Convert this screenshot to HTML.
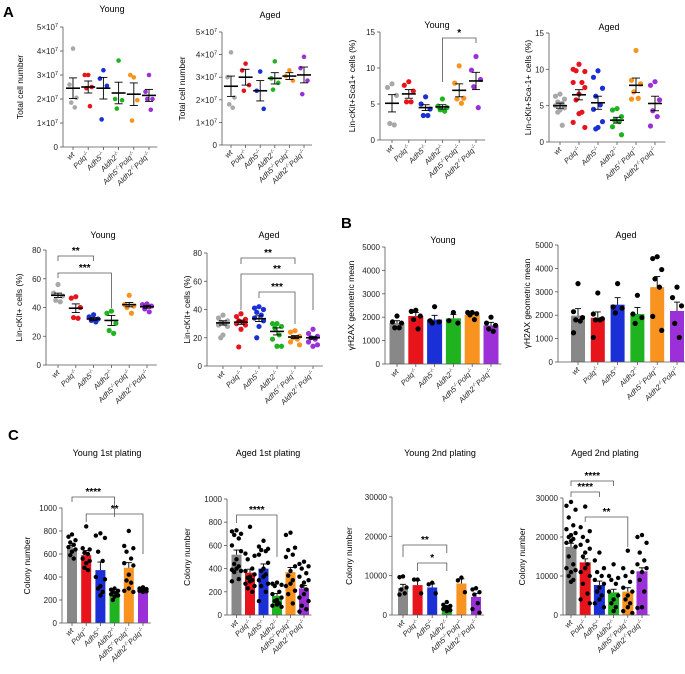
<!DOCTYPE html>
<html><head><meta charset="utf-8">
<style>
html,body{margin:0;padding:0;background:#fff;}
svg{display:block;font-family:"Liberation Sans",Arial,sans-serif;}
</style></head>
<body>
<svg id="fig" width="685" height="674" viewBox="0 0 685 674" xmlns="http://www.w3.org/2000/svg">
<text x="3" y="17" font-size="15" font-weight="bold">A</text>
<text x="341" y="228" font-size="15" font-weight="bold">B</text>
<text x="8" y="440" font-size="15" font-weight="bold">C</text>
</svg>
<script>
// ---- data ----
const categories = ["wt","Polq","Adh5","Aldh2","Adh5 Polq","Aldh2 Polq"];
const totalYoungMeans = [2.45,2.5,2.45,2.25,2.2,2.15];
const totalYoungSem = [0.43,0.25,0.45,0.45,0.47,0.25];
const totalYoungDots = [[4.1,2.6,2.05,1.85,1.65],[3.0,3.0,2.5,2.45,1.7],[3.2,2.85,2.55,1.15],[3.6,2.0,1.95,1.6],[2.9,3.0,1.95,1.1],[3.0,2.3,2.0,2.0,1.55]];
const totalAgedMeans = [2.6,3.0,2.4,2.95,3.05,3.1];
const totalAgedSem = [0.45,0.35,0.45,0.25,0.15,0.35];
const totalAgedDots = [[4.1,3.0,2.1,1.8,1.65],[3.6,3.3,2.65,2.4],[3.25,2.4,1.6],[3.7,2.95,2.75,2.45],[3.3,3.05,2.85],[3.9,3.4,2.85,2.25]];
const lskYoungMeans = [5.1,6.4,4.5,4.6,6.9,8.2];
const lskYoungSem = [1.2,0.6,0.4,0.3,0.9,1.2];
const lskYoungDots = [[7.8,7.3,6.2,2.3,2.1],[8.1,7.6,6.8,5.3,5.3],[6.0,5.0,4.3,3.4,3.4],[5.7,4.7,4.5,4.2,4.0],[10.3,7.9,5.8,5.7,5.1],[11.6,9.7,8.4,7.4,4.5]];
const lskAgedMeans = [5.0,6.5,5.4,3.0,7.8,5.3];
const lskAgedSem = [0.35,0.7,0.9,0.4,1.0,1.0];
const lskAgedDots = [[6.6,6.3,5.9,5.5,5.3,5.0,4.7,4.4,4.1,2.3],[10.7,10.0,9.7,9.8,8.2,8.2,7.5,6.6,5.8,4.1,3.9,2.7,2.0],[9.8,8.9,7.4,6.3,5.1,4.5,2.8,2.0,1.8],[4.6,4.4,3.5,3.0,2.8,2.1,1.0],[12.6,8.5,8.0,6.9,6.0,5.9],[8.3,7.8,5.8,4.3,3.5,2.2]];
const lkYoungMeans = [48.5,39.5,32,31,42,40.5];
const lkYoungSem = [1.5,3,1,3.5,1.5,1];
const lkYoungDots = [[56,50,48,45,44],[47.5,46.5,40,33,32.5],[35,33.5,32,31,30],[37.5,36,29,24,22],[48.5,42,41,40,36],[42.5,42,41,39,37]];
const lkAgedMeans = [30.5,31,33.5,24.5,20.5,20];
const lkAgedSem = [1.5,1.5,2,2.5,1,1];
const lkAgedDots = [[36,34,32,31,30,29,28,22,20],[37,35,33,32,31,30,29,26,13.5],[42,41,40,38,36,34,32,28,20],[30,30,28,27,22,19,14,14],[25,24,21,20,19,17,15],[26,23,21,20,19,17,15,14]];
const h2axYoungMeans = [1750,2050,1900,1950,2100,1650];
const h2axYoungSem = [100,150,180,170,80,130];
const h2axYoungDots = [[2050,1800,1750,1550,1550],[2300,2250,2050,1900,1500],[2450,1850,1800,1750],[2200,1850,1750],[2200,2200,2150,2100,1900],[2000,1750,1650,1500,1400]];
const h2axAgedMeans = [1980,1890,2450,2050,3200,2180];
const h2axAgedSem = [300,250,300,280,450,380];
const h2axAgedDots = [[3350,2150,1900,1800,1750,1250],[2950,2050,1850,1800,1800,1050],[3350,2350,2300,2100],[2850,2050,1900,1650],[4500,4420,3950,3550,3200,1950,1350],[3200,2750,2400,1650,1050]];
const cfuY1Means = [650,590,460,260,480,285];
const cfuY1Sem = [25,40,70,10,45,10];
const cfuY1Dots = [[770,750,720,700,680,660,640,620,590,560],[840,650,640,610,600,560,540,520,480,460],[780,760,740,620,540,400,380,320,300,270,240],[300,290,280,270,260,250,240,230,200],[800,670,650,620,560,520,500,420,370,350,300,280,270],[310,300,295,290,285,280,275,270]];
const cfuA1Means = [520,365,400,165,370,230];
const cfuA1Sem = [40,30,40,20,40,25];
const cfuA1Dots = [[730,720,700,690,660,600,550,480,440,420,400,390,380,370,310,290],[760,530,510,480,400,380,350,330,320,300,290,270,250,230,200],[640,590,570,560,550,520,450,400,380,350,330,300,270,250,200,120],[280,270,260,250,200,180,150,130,120,100,90,80,70],[710,690,580,560,520,500,420,380,340,300,270,250,210,180,100],[460,440,420,400,360,330,300,280,250,220,180,150,120,80,50,30]];
const cfuY2Means = [6800,7600,7000,2000,8000,4600];
const cfuY2Sem = [1000,1200,900,400,1200,900];
const cfuY2Dots = [[9800,9600,7000,6500,5500,5200],[9000,9000,5500],[8200,7800,5500],[3300,2600,2300,2000,1800,1500,1200,1000],[9500,8800,5800],[6800,6500,5800,5200,3000,1500,600]];
const cfuA2Means = [17500,13500,7700,5800,6000,11200];
const cfuA2Sem = [900,900,1000,800,1000,900];
const cfuA2Dots = [[29000,28000,27000,25000,23000,22000,21000,20500,20000,19500,19000,18500,17500,15000,13000,12000,11500,11000,10000,9000,8500],[27800,22500,21500,20000,19000,18000,17000,16000,15000,13000,12000,11000,10000,8000,5500,4000,3000],[16000,14000,12000,11000,10000,9000,8000,7000,6000,5000,4000,3000,2000],[13000,10000,9500,9000,8000,6000,5000,4000,3000,2000,1000],[16500,12000,11000,10000,8500,7000,6000,5000,4000,3000,2000,1000,500],[20500,20000,18500,16000,14000,13000,12000,11000,9000,6000,2000,1800]];
const ticksTotal = [0,1,2,3,4,5];
const ticksLsk = [0,5,10,15];
const ticksLk = [0,20,40,60,80];
const ticksH2ax = [0,1000,2000,3000,4000,5000];
const ticksCfu1 = [0,200,400,600,800,1000];
const ticksCfu2 = [0,10000,20000,30000];

const COLORS=["#9a9a9a","#e8141c","#1a2fd6","#1fb31f","#f7931e","#9b30d9"];
const DOTC=["#a8a8a8","#e8141c","#1a2fd6","#1fb31f","#f7931e","#9b30d9"];
const JITTER=[0,-1,1,-0.5,0.5,-1,1,0,-0.5,0.5];
const NS="http://www.w3.org/2000/svg";
const svg=document.getElementById('fig');
function el(tag,attrs,parent){const e=document.createElementNS(NS,tag);for(const k in attrs)e.setAttribute(k,attrs[k]);(parent||svg).appendChild(e);return e;}

function panel(cfg){
  const g=el('g',{});
  
  
  const vmax=cfg.ticks[cfg.ticks.length-1];
  const ys=v=>cfg.y0-(v/vmax)*(cfg.y0-cfg.ytop);
  const xs=i=>cfg.x0+i*cfg.dx;
  const xend=xs(5)+cfg.dx*0.55;
  const t=el('text',{x:cfg.tx,y:cfg.ty,'font-size':9,'text-anchor':'middle'},g);t.textContent=cfg.title;
  
  const yl=el('text',{x:0,y:0,'font-size':8.5,'text-anchor':'middle',transform:`translate(${cfg.ylx},${(cfg.y0+cfg.ytop)/2}) rotate(-90)`},g);
  yl.textContent=cfg.ylabel;
  
  if(cfg.bar){
    cfg.means.forEach((m,i)=>{
      const r=el('rect',{x:xs(i)-cfg.bw/2,y:ys(m),width:cfg.bw,height:cfg.y0-ys(m),fill:COLORS[i]==="#9a9a9a"?"#888":COLORS[i]},g);
      
    });
  }
  cfg.dots.forEach((arr,i)=>{
    const spread=cfg.jit*(arr.length>10?1.3:1);
    arr.forEach((v,j)=>{
      const off=JITTER[j%JITTER.length]*spread;
      const c=el('circle',{cx:xs(i)+off,cy:ys(v),r:cfg.r,fill:cfg.bar?"#000":DOTC[i]},g);
      
    });
  });
  cfg.means.forEach((m,i)=>{
    const x=xs(i),w=cfg.bar?3:4;
    el('line',{x1:x,x2:x,y1:ys(m+cfg.sem[i]),y2:cfg.bar?ys(m):ys(m-cfg.sem[i]),stroke:"#000","stroke-width":0.9},g);
    el('line',{x1:x-w,x2:x+w,y1:ys(m+cfg.sem[i]),y2:ys(m+cfg.sem[i]),stroke:"#000","stroke-width":0.9},g);
    if(!cfg.bar){
      el('line',{x1:x-w,x2:x+w,y1:ys(m-cfg.sem[i]),y2:ys(m-cfg.sem[i]),stroke:"#000","stroke-width":0.9},g);
      const ml=el('line',{x1:x-7,x2:x+7,y1:ys(m),y2:ys(m),stroke:"#000","stroke-width":1.6},g);
      
    }
  });
  const ax=el('line',{x1:cfg.ax,x2:cfg.ax,y1:cfg.ytop,y2:cfg.y0,stroke:"#555","stroke-width":0.8},g);
  
  const xa=el('line',{x1:cfg.ax,x2:xend,y1:cfg.y0,y2:cfg.y0,stroke:"#555","stroke-width":0.8},g);
  
  cfg.ticks.forEach((tv,k)=>{
    el('line',{x1:cfg.ax-3,x2:cfg.ax,y1:ys(tv),y2:ys(tv),stroke:"#555","stroke-width":0.8},g);
    const tl=el('text',{x:cfg.ax-5,y:ys(tv)+3,'font-size':8,'text-anchor':'end',fill:'#222'},g);
    
    if(cfg.sci && tv>0){tl.textContent=tv+"×10";const s=el('tspan',{'font-size':5.5,dy:-3},tl);s.textContent="7";}
    else tl.textContent=String(tv);
  });
  categories.forEach((c,i)=>{
    el('line',{x1:xs(i),x2:xs(i),y1:cfg.y0,y2:cfg.y0+3,stroke:"#555","stroke-width":0.8},g);
    const tl=el('text',{'font-size':7.5,'text-anchor':'end','font-style':'italic',fill:'#222',transform:`translate(${xs(i)+2},${cfg.y0+8}) rotate(-45)`},g);
    
    if(c==="wt"){tl.textContent="wt";}
    else{
      c.split(" ").forEach((p,k)=>{
        const a=el('tspan',{},tl);a.textContent=(k?" ":"")+p;
        const s=el('tspan',{'font-size':5,dy:-3},tl);s.textContent="-/-";
        const b=el('tspan',{'font-size':1,dy:3},tl);b.textContent=" ";
      });
    }
  });
  (cfg.sig||[]).forEach(s=>{
    const x1=xs(s[0]),x2=xs(s[1]),y=s[2];
    el('path',{d:`M${x1},${y+s[4]} V${y} H${x2} V${y+s[5]}`,fill:"none",stroke:"#555","stroke-width":0.8},g);
    const st=el('text',{x:(x1+x2)/2,y:y-2,'font-size':10,'font-weight':'bold','text-anchor':'middle'},g);
    st.textContent=s[3];
    
  });
}

panel({name:'total-young-chart',title:'Young',tx:112,ty:12,ylabel:'Total cell number',ylx:23,ax:63,y0:147,ytop:27,x0:73,dx:15.2,ticks:ticksTotal,sci:true,means:totalYoungMeans,sem:totalYoungSem,dots:totalYoungDots,r:2.3,jit:3.5});
panel({name:'total-aged-chart',title:'Aged',tx:270,ty:18,ylabel:'Total cell number',ylx:185,ax:222,y0:145,ytop:32,x0:231,dx:14.6,ticks:ticksTotal,sci:true,means:totalAgedMeans,sem:totalAgedSem,dots:totalAgedDots,r:2.3,jit:3.5});
panel({name:'lsk-young-chart',title:'Young',tx:437,ty:28,ylabel:'Lin-cKit+Sca1+ cells (%)',ylx:355,ax:380,y0:140,ytop:32,x0:392,dx:16.8,ticks:ticksLsk,means:lskYoungMeans,sem:lskYoungSem,dots:lskYoungDots,r:2.6,jit:4.5,sig:[[3,5,38,'*',44,5]]});
panel({name:'lsk-aged-chart',title:'Aged',tx:609,ty:30,ylabel:'Lin-cKit+Sca-1+ cells (%)',ylx:531,ax:549,y0:142,ytop:33,x0:560,dx:19,ticks:ticksLsk,means:lskAgedMeans,sem:lskAgedSem,dots:lskAgedDots,r:2.6,jit:4.5});
panel({name:'lk-young-chart',title:'Young',tx:103,ty:238,ylabel:'Lin-cKit+ cells (%)',ylx:22,ax:46,y0:365,ytop:250,x0:58,dx:17.8,ticks:ticksLk,means:lkYoungMeans,sem:lkYoungSem,dots:lkYoungDots,r:2.6,jit:4.5,sig:[[0,2,256,'**',5,5],[0,3,273,'***',5,35]]});
panel({name:'lk-aged-chart',title:'Aged',tx:269,ty:238,ylabel:'Lin-cKit+ cells (%)',ylx:190,ax:207,y0:366,ytop:253,x0:223,dx:18,ticks:ticksLk,means:lkAgedMeans,sem:lkAgedSem,dots:lkAgedDots,r:2.6,jit:4.5,sig:[[1,4,258,'**',6,6],[1,5,274,'**',36,36],[2,4,292,'***',6,32]]});
panel({name:'h2ax-young-chart',title:'Young',tx:443,ty:243,ylabel:'γH2AX geometric mean',ylx:354,ax:385,y0:364,ytop:247,x0:397,dx:18.8,ticks:ticksH2ax,bar:true,bw:15,means:h2axYoungMeans,sem:h2axYoungSem,dots:h2axYoungDots,r:2.6,jit:4.5});
panel({name:'h2ax-aged-chart',title:'Aged',tx:626,ty:238,ylabel:'γH2AX geometric mean',ylx:530,ax:558,y0:362,ytop:245,x0:578,dx:19.8,ticks:ticksH2ax,bar:true,bw:14,means:h2axAgedMeans,sem:h2axAgedSem,dots:h2axAgedDots,r:2.6,jit:4.5});
panel({name:'colony-young-1st-chart',title:'Young 1st plating',tx:107,ty:456,ylabel:'Colony number',ylx:30,ax:62,y0:623,ytop:508,x0:72,dx:14.2,ticks:ticksCfu1,bar:true,bw:10,means:cfuY1Means,sem:cfuY1Sem,dots:cfuY1Dots,r:2.2,jit:3.5,sig:[[0,3,497,'****',5,20],[1,5,514,'**',8,40]]});
panel({name:'colony-aged-1st-chart',title:'Aged 1st plating',tx:268,ty:456,ylabel:'Colony number',ylx:190,ax:227,y0:615,ytop:499,x0:236.5,dx:13.5,ticks:ticksCfu1,bar:true,bw:10,means:cfuA1Means,sem:cfuA1Sem,dots:cfuA1Dots,r:2.2,jit:3.5,sig:[[0,3,515,'****',8,42]]});
panel({name:'colony-young-2nd-chart',title:'Young 2nd plating',tx:440,ty:456,ylabel:'Colony number',ylx:352,ax:392,y0:615,ytop:497,x0:403,dx:14.6,ticks:ticksCfu2,bar:true,bw:10,means:cfuY2Means,sem:cfuY2Sem,dots:cfuY2Dots,r:2.2,jit:3.5,sig:[[0,3,545,'**',12,8],[1,3,563,'*',8,8]]});
panel({name:'colony-aged-2nd-chart',title:'Aged 2nd plating',tx:605,ty:456,ylabel:'Colony number',ylx:525,ax:563,y0:615,ytop:498,x0:571,dx:14.2,ticks:ticksCfu2,bar:true,bw:11,means:cfuA2Means,sem:cfuA2Sem,dots:cfuA2Dots,r:2.2,jit:3.5,sig:[[0,3,481,'****',5,5],[0,2,492,'****',5,5],[1,4,517,'**',5,30]]});
</script>
</body></html>
